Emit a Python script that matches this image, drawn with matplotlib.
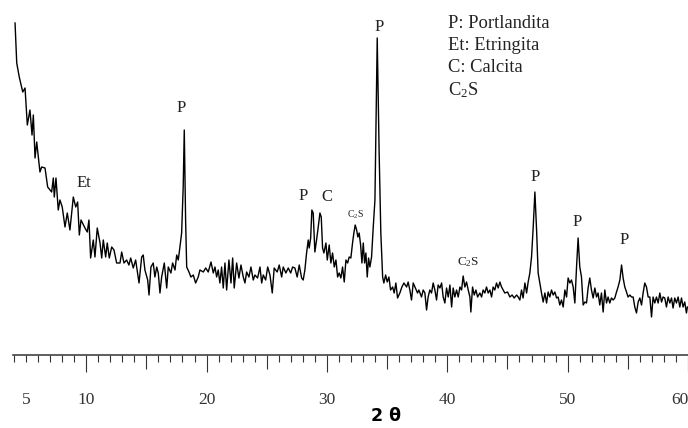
import numpy as np
import matplotlib
matplotlib.use("Agg")
import matplotlib.pyplot as plt

plt.rcParams["font.family"] = ["Liberation Serif", "DejaVu Serif"]
plt.rcParams["mathtext.fontset"] = "custom"
plt.rcParams["mathtext.rm"] = "Liberation Serif"
plt.rcParams["mathtext.it"] = "Liberation Serif:italic"

# Difractograma (2θ en grados, intensidad en cuentas arbitrarias)
two_theta = [
    4.09, 4.23, 4.44, 4.73, 4.92, 5.11, 5.33, 5.50, 5.61, 5.75, 5.89, 6.16, 6.30, 6.58, 6.80,
    7.13, 7.27, 7.35, 7.49, 7.68, 7.82, 8.01, 8.24, 8.43, 8.65, 8.93, 9.13, 9.29, 9.43, 9.57,
    9.90, 10.09, 10.23, 10.37, 10.59, 10.73, 10.92, 11.15, 11.29, 11.42, 11.62, 11.75, 11.92,
    12.12, 12.31, 12.53, 12.81, 12.95, 13.14, 13.36, 13.55, 13.70, 13.91, 14.11,
    14.39, 14.61, 14.74, 14.88, 15.11, 15.22, 15.38, 15.57, 15.71, 15.86, 15.99, 16.13, 16.27,
    16.49, 16.69, 16.82, 17.04, 17.18, 17.38, 17.52, 17.65, 17.79, 17.93, 18.06, 18.15, 18.26,
    18.35, 18.54, 18.70, 18.90, 19.09, 19.31, 19.45, 19.73, 19.93, 20.14, 20.37, 20.56, 20.70,
    20.84, 20.97, 21.11, 21.25, 21.39, 21.53, 21.67, 21.86, 22.03, 22.17, 22.30, 22.50, 22.69,
    22.86, 23.05, 23.19, 23.33, 23.52, 23.69, 23.88, 24.02, 24.24, 24.44, 24.58, 24.71, 24.91,
    25.08, 25.27, 25.46, 25.62,
    25.87, 26.04, 26.24, 26.37, 26.59, 26.79, 26.99, 27.15, 27.34, 27.53, 27.70, 27.90, 28.03,
    28.17, 28.31, 28.45, 28.53, 28.65, 28.75, 28.86, 29.00, 29.14, 29.28, 29.42, 29.53, 29.64,
    29.75, 29.92, 30.03, 30.19, 30.33, 30.47, 30.61, 30.75, 30.89, 31.02, 31.16, 31.30, 31.44,
    31.58, 31.72, 31.85, 31.99, 32.13, 32.24, 32.35, 32.47, 32.57, 32.68, 32.80, 32.91, 33.02,
    33.13, 33.24, 33.35, 33.46, 33.57, 33.71, 33.85, 33.99, 34.18, 34.34, 34.48, 34.63, 34.73,
    34.88, 35.01, 35.15, 35.29, 35.46, 35.59, 35.73, 35.87, 36.06, 36.23, 36.40,
    36.62, 36.75, 36.89, 37.03, 37.17, 37.31, 37.53, 37.64, 37.86, 38.00, 38.14, 38.28, 38.41,
    38.55, 38.69, 38.83, 38.97, 39.11, 39.24, 39.39, 39.53, 39.66, 39.80, 39.94, 40.08, 40.22,
    40.36, 40.49, 40.63, 40.77, 40.91, 41.05, 41.19, 41.32, 41.46, 41.60, 41.74, 41.88, 41.96,
    42.10, 42.24, 42.38, 42.52, 42.71, 42.85, 42.98, 43.12, 43.26, 43.40, 43.54, 43.68, 43.81,
    43.95, 44.09, 44.23, 44.37, 44.51, 44.64, 44.78, 45.01, 45.20, 45.39, 45.56, 45.76, 45.89,
    46.03, 46.17, 46.30, 46.45, 46.59, 46.72, 46.86, 47.00, 47.14, 47.28, 47.42, 47.55, 47.69,
    47.83, 47.97, 48.11, 48.25, 48.38,
    48.52, 48.66, 48.80, 48.94, 49.08, 49.21, 49.35, 49.49, 49.63, 49.77, 49.91, 50.04, 50.18,
    50.32, 50.46, 50.60, 50.74, 50.87, 51.01, 51.15, 51.29, 51.43, 51.57, 51.70, 51.84, 51.98,
    52.12, 52.26, 52.40, 52.53, 52.67, 52.81, 52.95, 53.09, 53.23, 53.36, 53.50, 53.64, 53.78,
    53.92, 54.06, 54.19, 54.34, 54.48, 54.61, 54.75, 54.89, 55.02, 55.17, 55.31, 55.44, 55.58,
    55.72, 55.86, 56.00, 56.14, 56.27, 56.41, 56.55, 56.69, 56.83, 56.97, 57.10, 57.24, 57.38,
    57.52, 57.66, 57.80, 57.93, 58.07, 58.21, 58.35, 58.49, 58.63, 58.76, 58.90, 59.04, 59.18,
    59.32, 59.46, 59.59, 59.73, 59.87, 59.95,
]

intensity = [
    333, 293, 279, 264, 268, 231, 246, 221, 241, 198, 214, 184, 189, 188, 169,
    164, 178, 159, 178, 146, 156, 149, 129, 143, 126, 159, 149, 154, 121, 136,
    128, 124, 136, 98, 116, 99, 128, 113, 98, 116, 99, 113, 98,
    109, 106, 93, 93, 104, 93, 96, 91, 98, 88, 96,
    73, 99, 101, 86, 76, 61, 89, 93, 79, 89, 83, 63, 79,
    93, 68, 89, 83, 93, 86, 101, 96, 109, 123, 169, 226, 136,
    89, 84, 79, 81, 73, 79, 86, 84, 88, 84, 94, 83, 89,
    79, 86, 73, 89, 68, 93, 66, 96, 73, 98, 68, 93, 78,
    91, 79, 73, 84, 79, 89, 76, 81, 78, 89, 73, 81, 76,
    89, 81, 63, 88,
    84, 91, 79, 89, 83, 88, 83, 89, 88, 79, 91, 78, 76,
    86, 103, 116, 108, 118, 146, 143, 104, 116, 129, 143, 139, 108,
    103, 113, 96, 111, 93, 103, 89, 96, 79, 83, 78, 89, 74,
    96, 93, 99, 98, 113, 123, 131, 126, 119, 123, 111, 93, 113,
    93, 103, 79, 98, 89, 99, 129, 156, 318, 203, 123, 79, 73,
    81, 74, 79, 66, 69, 63, 73, 58, 63, 69, 73,
    69, 74, 66, 56, 73, 69, 63, 66, 59, 66, 63, 46, 59,
    66, 63, 73, 66, 56, 71, 68, 73, 59, 53, 68, 59, 71,
    49, 68, 59, 66, 59, 69, 66, 80, 69, 74, 66, 59, 44,
    69, 61, 66, 59, 63, 59, 66, 63, 69, 63, 66, 59, 69,
    66, 73, 68, 74, 69, 66, 63, 64, 59, 61, 58, 61, 59,
    56, 66, 58, 73, 63, 74, 83, 99, 129, 164, 126, 83, 73,
    63, 54, 63, 53, 64,
    59, 66, 61, 64, 58, 59, 51, 56, 49, 66, 59, 78, 73,
    76, 69, 53, 89, 118, 89, 79, 51, 54, 53, 68, 78, 66,
    58, 68, 59, 63, 51, 63, 44, 66, 53, 59, 53, 58, 56,
    58, 64, 69, 76, 91, 78, 69, 64, 59, 61, 59, 59, 49,
    43, 54, 58, 51, 63, 73, 69, 59, 59, 39, 59, 53, 59,
    53, 63, 54, 59, 58, 49, 59, 53, 58, 48, 58, 53, 59,
    49, 58, 49, 54, 43, 49,
]

# etiquetas de fases sobre los picos: (texto, 2θ, intensidad, tamaño)
peak_labels = [
    ("Et", 9.82, 173, 12),
    ("P", 17.87, 248, 12),
    ("P", 28.01, 160, 12),
    ("C", 30.00, 159, 12),
    ("C$_2$S", 32.41, 141, 7),
    ("P", 34.32, 329, 12),
    ("C$_2$S", 41.71, 94, 9.5),
    ("P", 47.28, 179, 12),
    ("P", 50.76, 134, 12),
    ("P", 54.67, 116, 12),
]

legend_lines = ["P: Portlandita", "Et: Etringita", "C: Calcita", "C$_2$S"]

major_ticks = [5, 10, 15, 20, 25, 30, 35, 40, 45, 50, 55, 60]
tick_text = ["5", "10", "", "20", "", "30", "", "40", "", "50", "", "60"]

fig = plt.figure(figsize=(6.88, 4.28), dpi=100)
ax = fig.add_axes([13 / 688, 73 / 428, 675 / 688, 355 / 428])

ax.plot(two_theta, intensity, color="black", lw=1.0)

for txt, x, y, fs in peak_labels:
    ax.text(x, y, txt, ha="center", va="center", fontsize=fs, color="#222222")

for i, line in enumerate(legend_lines):
    fig.text(448 / 688, 1 - (23 + 22.5 * i) / 428, line, ha="left", va="center",
             fontsize=13.3, color="#222222")

ax.set_xlim(3.92, 60.0)
ax.set_ylim(1, 356)

for side in ["left", "right", "top"]:
    ax.spines[side].set_visible(False)
ax.spines["bottom"].set_linewidth(1.1)
ax.spines["bottom"].set_color("#333333")
ax.set_yticks([])

ax.set_xticks(major_ticks)
ax.set_xticklabels(tick_text)
ax.set_xticks(np.arange(4, 61), minor=True)
ax.tick_params(axis="x", which="major", length=12.5, width=0.8, pad=14,
               labelsize=12.5, colors="#333333")
ax.tick_params(axis="x", which="minor", length=5, width=0.8, colors="#333333")
for val, tick in zip(major_ticks, ax.xaxis.get_major_ticks()):
    if val == 5:
        tick.tick1line.set_markersize(5)
    elif val % 10 == 5:
        tick.tick1line.set_markersize(10)
ax.get_xticklabels()[-1].set_horizontalalignment("right")

ax.set_xlabel("2 θ", fontsize=12.5, fontweight="bold", family="DejaVu Sans",
              color="black")
ax.xaxis.set_label_coords((386 - 13) / 675, -0.172)
ax.xaxis.label.set_verticalalignment("center")

fig.savefig("out.png", dpi=100)
